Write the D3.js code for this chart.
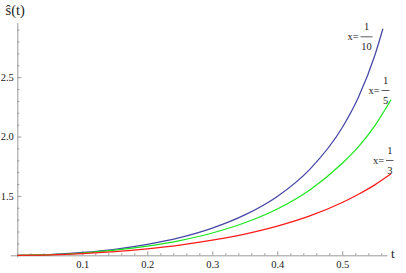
<!DOCTYPE html>
<html>
<head>
<meta charset="utf-8">
<script src="https://cdn.jsdelivr.net/npm/d3@7/dist/d3.min.js"></script>
<style>
  html, body { margin: 0; padding: 0; background: #fff; }
  svg { display: block; }
  .axis path, .axis line { stroke: #9a9a9a; }
</style>
</head>
<body>
<svg id="chart" width="406" height="273"></svg>
<script>
// ---- data ----
const seriesNames = ["x=1/10", "x=1/5", "x=1/3"];
const tBlue  = [0, 0.05, 0.1, 0.15, 0.2, 0.25, 0.3, 0.35, 0.4, 0.45, 0.5, 0.525, 0.55, 0.5625];
const sBlue  = [1, 1.006, 1.024, 1.051, 1.092, 1.149, 1.229, 1.340, 1.496, 1.724, 2.076, 2.333, 2.682, 2.907];
const tGreen = [0, 0.05, 0.1, 0.15, 0.2, 0.25, 0.3, 0.35, 0.4, 0.45, 0.5, 0.525, 0.55, 0.575];
const sGreen = [1, 1.005, 1.019, 1.043, 1.077, 1.124, 1.188, 1.274, 1.390, 1.550, 1.775, 1.915, 2.090, 2.310];
const tRed   = [0, 0.05, 0.1, 0.15, 0.2, 0.25, 0.3, 0.35, 0.4, 0.45, 0.5, 0.525, 0.55, 0.575];
const sRed   = [1, 1.004, 1.014, 1.031, 1.055, 1.086, 1.127, 1.179, 1.246, 1.332, 1.445, 1.514, 1.593, 1.686];
const xMajorTicks = [0.1, 0.2, 0.3, 0.4, 0.5];
const xMinorTicks = [0.02,0.04,0.06,0.08,0.12,0.14,0.16,0.18,0.22,0.24,0.26,0.28,0.32,0.34,0.36,0.38,0.42,0.44,0.46,0.48,0.52,0.54,0.56];
const yMajorTicks = [1.5, 2.0, 2.5];
const yMinorTicks = [1.1,1.2,1.3,1.4,1.6,1.7,1.8,1.9,2.1,2.2,2.3,2.4,2.6,2.7,2.8,2.9];
const seriesColors = ["#4646a6", "#1ee61e", "#ff1a1a"];

const SERIF = "'Liberation Serif'";

// ---- scales ----
const svg = d3.select("#chart");
const x = d3.scaleLinear().domain([-0.0108, 0.5688]).range([10.3, 387]);
const y = d3.scaleLinear().domain([0.985, 2.96]).range([257.1, 22.5]);

const xAxisY = y(1);
const yAxisX = x(0);

function styleAxis(g) {
  g.attr("font-family", null).attr("font-size", null);
  g.selectAll("text").attr("fill", "#222").style("font-family", SERIF).attr("font-size", 10.5);
}

// ---- axes ----
const gx = svg.append("g").attr("class", "axis").attr("transform", `translate(0,${xAxisY})`);
gx.call(d3.axisBottom(x).tickValues(xMinorTicks).tickSize(-2).tickSizeOuter(0).tickFormat(""));
gx.call(g => g.select(".domain").remove());
const gx2 = svg.append("g").attr("class", "axis").attr("transform", `translate(0,${xAxisY})`);
gx2.call(d3.axisBottom(x).tickValues(xMajorTicks).tickSize(-4).tickSizeOuter(0).tickPadding(5.5)
  .tickFormat(d3.format(".1f")));
styleAxis(gx2);

const gy = svg.append("g").attr("class", "axis").attr("transform", `translate(${yAxisX},0)`);
gy.call(d3.axisLeft(y).tickValues(yMinorTicks).tickSize(-2).tickSizeOuter(0).tickFormat(""));
gy.call(g => g.select(".domain").remove());
const gy2 = svg.append("g").attr("class", "axis").attr("transform", `translate(${yAxisX},0)`);
gy2.call(d3.axisLeft(y).tickValues(yMajorTicks).tickSize(-4).tickSizeOuter(0).tickPadding(3.5)
  .tickFormat(d3.format(".1f")));
styleAxis(gy2);

// ---- curves ----
const line = d3.line().x(d => x(d[0])).y(d => y(d[1])).curve(d3.curveMonotoneX);
const series = [d3.zip(tBlue, sBlue), d3.zip(tGreen, sGreen), d3.zip(tRed, sRed)];
series.forEach((pts, i) => {
  svg.append("path").datum(pts)
    .attr("fill", "none")
    .attr("stroke", seriesColors[i])
    .attr("stroke-width", 1.25)
    .attr("d", line);
});

// ---- axis labels ----
function label(xp, yp, size, txt, anchor) {
  return svg.append("text").attr("x", xp).attr("y", yp)
    .style("font-family", SERIF).attr("font-size", size).attr("fill", "#222")
    .attr("text-anchor", anchor || "start").text(txt);
}
label(391, 257.5, 13, "t");
label(5.5, 14.5, 14.5, "ŝ(t)");

// ---- curve annotations: x = num/den ----
const annotations = [
  { xEq: 347.5, mid: 36.8, barX0: 360.5, barX1: 372.5, num: "1", den: "10" },
  { xEq: 368.5, mid: 90.5, barX0: 381.5, barX1: 389.5, num: "1", den: "5" },
  { xEq: 373,   mid: 160.5, barX0: 386, barX1: 393.5, num: "1", den: "3" }
];
annotations.forEach(a => {
  label(a.xEq, a.mid + 3.3, 10.5, "x=");
  svg.append("line").attr("x1", a.barX0).attr("x2", a.barX1)
    .attr("y1", a.mid).attr("y2", a.mid).attr("stroke", "#333").attr("stroke-width", 0.8);
  const cx = (a.barX0 + a.barX1) / 2;
  label(cx, a.mid - 6.5, 10.5, a.num, "middle");
  label(cx, a.mid + 13.5, 10.5, a.den, "middle");
});
</script>
</body>
</html>
